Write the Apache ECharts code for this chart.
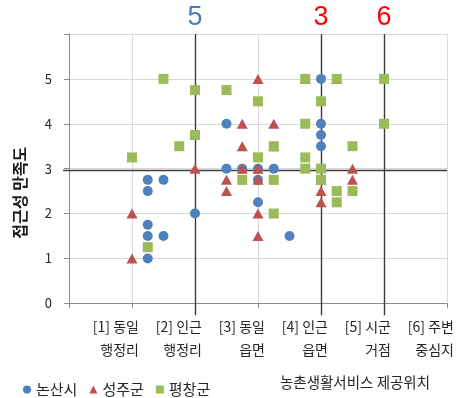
<!DOCTYPE html>
<html>
<head>
<meta charset="utf-8">
<script src="https://cdn.jsdelivr.net/npm/echarts@6/dist/echarts.min.js"></script>
<style>
  html, body { margin: 0; padding: 0; background: #fff; }
  #chart { width: 458px; height: 398px; }
</style>
</head>
<body>
<div id="chart"></div>
<script>
// Service location categories (x = 1..6) and satisfaction score ticks
const locationLabels = ['[1] 동일\n행정리', '[2] 인근\n행정리', '[3] 동일\n읍면', '[4] 인근\n읍면', '[5] 시군\n거점', '[6] 주변\n중심지'];
const yTicks = [0, 1, 2, 3, 4, 5];

// Responses per county: [location (jittered), satisfaction]
const nonsan = [
  [1.25, 2.75], [1.5, 2.75], [1.25, 2.5], [1.25, 1.75], [1.25, 1.5], [1.5, 1.5], [1.25, 1],
  [2, 2], [2.5, 4], [2.5, 3], [2.75, 3], [3, 3], [3.25, 3], [3, 2.75], [3, 2.25], [3.5, 1.5],
  [4, 5], [4, 4], [4, 3.75], [4, 3.5]
];
const seongju = [
  [1, 2], [1, 1], [2, 3], [2.5, 2.75], [2.5, 2.5], [2.75, 4], [2.75, 3.5], [2.75, 3],
  [3, 5], [3, 3], [3, 2.75], [3, 2], [3, 1.5], [3.25, 4], [3.25, 3.5],
  [3.75, 5], [4.25, 5], [4, 2.75], [4, 2.5], [4, 2.25], [4.5, 3], [4.5, 2.75]
];
const pyeongchang = [
  [1, 3.25], [1.25, 1.25], [1.5, 5], [1.75, 3.5], [2, 4.75], [2, 3.75], [2.5, 4.75], [2.75, 2.75],
  [3, 4.5], [3, 3.25], [3.25, 3.5], [3.25, 2.75], [3.25, 2], [3.75, 5], [3.75, 4], [3.75, 3.25],
  [3.75, 3], [4, 4.5], [4, 3], [4, 2.75], [4.25, 5], [4.25, 2.5], [4.25, 2.25], [4.5, 3.5],
  [4.5, 2.5], [5, 5], [5, 4]
];

// Reference markers: location, count label, label colour
const refLocations = [2, 4, 5];
const refCounts = ['5', '3', '6'];
const refColors = ['#4a7ebb', '#ff0000', '#ff0000'];
const meanSatisfaction = 2.96;

const FONT = '"Noto Sans CJK KR", "Noto Sans", sans-serif';
const AXIS_GRAY = '#8c8c8c';
const GRID_GRAY = '#d9d9d9';
const DARK = '#3c3c3c';
const TEXT = '#262626';

// Vertical reference lines span the full value range; the count sits above each one
const refLineData = refLocations.map((x, i) => [
  { coord: [x, 6], label: { color: refColors[i], formatter: refCounts[i] } },
  { coord: [x, 0] }
]);
// Horizontal line at the mean satisfaction
refLineData.push([
  { coord: [0, meanSatisfaction], label: { show: false } },
  { coord: [6, meanSatisfaction] }
]);

const chart = echarts.init(document.getElementById('chart'));

chart.setOption({
  animation: false,
  textStyle: { fontFamily: FONT },
  grid: {
    left: 69, right: 11, top: 34, bottom: 94.7,
    containLabel: false,
    outerBoundsMode: 'none'
  },
  title: {
    text: '농촌생활서비스 제공위치',
    right: 28,
    top: 373,
    padding: 0,
    textStyle: { fontFamily: FONT, fontSize: 14.5, fontWeight: 'normal', color: TEXT, lineHeight: 18 }
  },
  legend: {
    left: 18,
    top: 377,
    itemWidth: 8,
    itemHeight: 8,
    itemGap: 12,
    textStyle: { fontFamily: FONT, fontSize: 15, color: TEXT },
    data: [
      { name: '논산시', icon: 'circle' },
      { name: '성주군', icon: 'triangle' },
      { name: '평창군', icon: 'rect' }
    ]
  },
  xAxis: [
    {
      type: 'value',
      position: 'bottom',
      min: 0,
      max: 6,
      interval: 1,
      axisLine: { show: true, onZero: false, lineStyle: { color: AXIS_GRAY } },
      axisTick: { show: true, length: 5, lineStyle: { color: AXIS_GRAY } },
      splitLine: { show: true, lineStyle: { color: GRID_GRAY } },
      axisLabel: {
        show: true,
        showMaxLabel: true,
        hideOverlap: false,
        margin: 12,
        fontFamily: FONT,
        fontSize: 14,
        lineHeight: 23,
        color: TEXT,
        align: 'right',
        padding: [0, -7, 0, 0],
        formatter: v => (v >= 1 && v <= 6 ? locationLabels[v - 1] : '')
      }
    },
    {
      // longer dark ticks that carry the reference lines below the axis
      type: 'value',
      position: 'bottom',
      min: 0,
      max: 6,
      axisLine: { show: false },
      axisLabel: { show: false },
      splitLine: { show: false },
      axisTick: { show: true, customValues: refLocations, length: 12, lineStyle: { color: DARK, width: 1.4 } }
    }
  ],
  yAxis: [
    {
      type: 'value',
      position: 'left',
      min: 0,
      max: 6,
      interval: 1,
      name: '접근성 만족도',
      nameLocation: 'middle',
      nameGap: 41,
      nameTextStyle: {
        fontFamily: FONT, fontSize: 16, fontWeight: 'bold', color: '#1a1a1a',
        padding: [0, 48, 0, 0]
      },
      axisLine: { show: true, onZero: false, lineStyle: { color: AXIS_GRAY } },
      axisTick: { show: true, length: 5, lineStyle: { color: AXIS_GRAY } },
      splitLine: { show: true, lineStyle: { color: GRID_GRAY } },
      axisLabel: {
        margin: 17,
        fontFamily: FONT,
        fontSize: 13,
        color: TEXT,
        formatter: v => (yTicks.indexOf(v) >= 0 ? String(v) : '')
      }
    },
    {
      // short dark tick continuing the mean line past the y axis
      type: 'value',
      position: 'left',
      min: 0,
      max: 6,
      axisLine: { show: false },
      axisLabel: { show: false },
      splitLine: { show: false },
      axisTick: { show: true, customValues: [meanSatisfaction], length: 6, lineStyle: { color: DARK, width: 1.4 } }
    }
  ],
  series: [
    {
      name: '논산시',
      type: 'scatter',
      symbol: 'circle',
      symbolSize: 10,
      itemStyle: { color: '#4f81bd', opacity: 1 },
      z: 3,
      data: nonsan,
      markLine: {
        silent: true,
        symbol: ['none', 'none'],
        animation: false,
        z: 1,
        lineStyle: { color: DARK, width: 1.4, type: 'solid' },
        label: {
          show: true,
          position: 'start',
          distance: 3,
          fontFamily: '"Liberation Sans", "DejaVu Sans", sans-serif',
          fontSize: 27
        },
        data: refLineData
      }
    },
    {
      name: '성주군',
      type: 'scatter',
      symbol: 'triangle',
      symbolSize: [11, 10],
      itemStyle: { color: '#c0504d', opacity: 1 },
      z: 4,
      data: seongju
    },
    {
      name: '평창군',
      type: 'scatter',
      symbol: 'rect',
      symbolSize: 10,
      itemStyle: { color: '#9bbb59', opacity: 1 },
      z: 5,
      data: pyeongchang
    }
  ]
});
</script>
</body>
</html>
